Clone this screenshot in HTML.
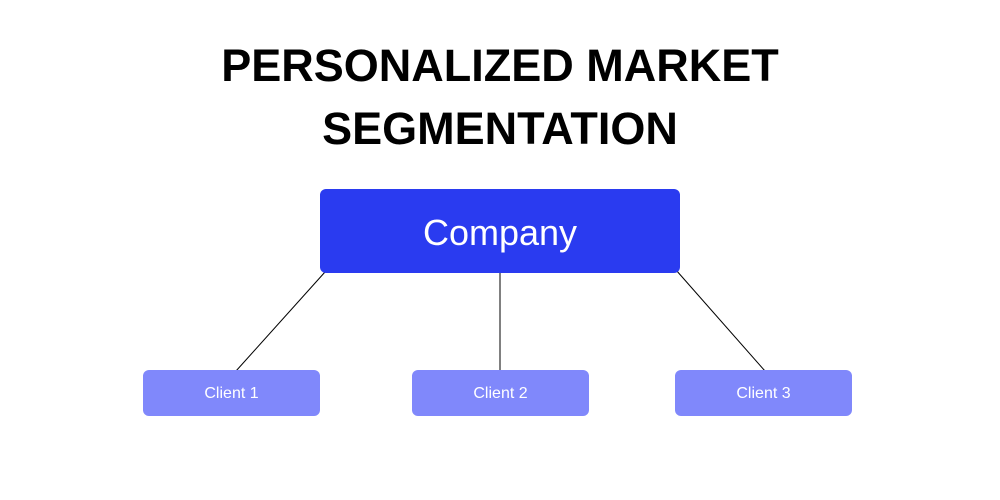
<!DOCTYPE html>
<html><head><style>
body{margin:0;width:1000px;height:500px;background:#fff;position:relative;font-family:"Liberation Sans",sans-serif;overflow:hidden}
.t{position:absolute;left:0;width:1000px;text-align:center;font-weight:bold;font-size:45px;color:#000;letter-spacing:0px}
.b{position:absolute;display:flex;align-items:center;justify-content:center;color:#fff;border-radius:6px}
</style></head><body>
<div class="t" style="top:40px">PERSONALIZED MARKET</div>
<div class="t" style="top:103px">SEGMENTATION</div>
<svg style="position:absolute;left:0;top:0" width="1000" height="500">
<line x1="325" y1="272" x2="236" y2="371" stroke="#000" stroke-width="1"/>
<line x1="500" y1="272" x2="500" y2="371" stroke="#000" stroke-width="1"/>
<line x1="676" y1="270" x2="765" y2="371" stroke="#000" stroke-width="1"/>
</svg>
<div class="b" style="left:320px;top:189px;width:360px;height:84px;background:#2a3bf0;font-size:36px;padding-top:3px;box-sizing:border-box">Company</div>
<div class="b" style="left:143px;top:370px;width:177px;height:46px;background:#8088fb;font-size:16px;padding-top:2px;box-sizing:border-box">Client 1</div>
<div class="b" style="left:412px;top:370px;width:177px;height:46px;background:#8088fb;font-size:16px;padding-top:2px;box-sizing:border-box">Client 2</div>
<div class="b" style="left:675px;top:370px;width:177px;height:46px;background:#8088fb;font-size:16px;padding-top:2px;box-sizing:border-box">Client 3</div>
</body></html>
